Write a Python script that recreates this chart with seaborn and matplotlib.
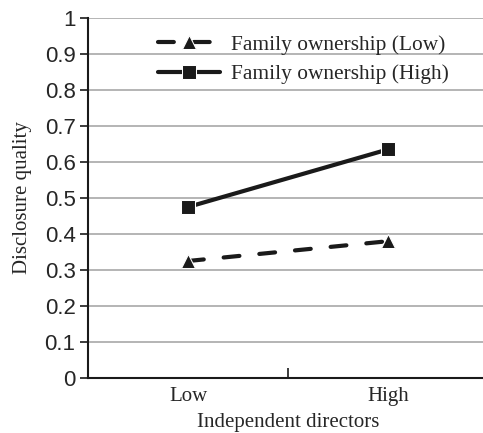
import pandas as pd
import matplotlib.pyplot as plt
import seaborn as sns

# values
directors = ['Low', 'High']
family_low = [0.325, 0.38]
family_high = [0.475, 0.635]
series_names = ['Family ownership (Low)', 'Family ownership (High)']

df = pd.DataFrame({
    'Independent directors': directors * 2,
    'Disclosure quality': family_low + family_high,
    'series': [series_names[0]] * 2 + [series_names[1]] * 2,
})

sns.set_style('white')

fig = plt.figure(figsize=(4.83, 4.33), dpi=100)
# axes runs off the right edge like in the original
ax = fig.add_axes([88 / 483, 1 - 378 / 433, 400 / 483, 360 / 433])

sns.lineplot(data=df, x='Independent directors', y='Disclosure quality',
             style='series', style_order=series_names,
             markers={series_names[0]: '^', series_names[1]: 's'},
             dashes={series_names[0]: (3.8, 4.8), series_names[1]: ''},
             color='#1a1a1a', linewidth=3, markersize=10,
             dash_capstyle='round', ax=ax)

ax.set_xlim(-0.5, 1.5)
ax.set_ylim(0, 1)
ax.set_yticks([i / 10 for i in range(11)])
ax.set_yticklabels(['0', '0.1', '0.2', '0.3', '0.4', '0.5', '0.6', '0.7', '0.8', '0.9', '1'],
                   family='Liberation Sans', fontsize=16)
ax.yaxis.grid(True, color='#a8a8a8', linewidth=1.2)
ax.set_axisbelow(True)

for side in ['top', 'right']:
    ax.spines[side].set_visible(False)
for side in ['left', 'bottom']:
    ax.spines[side].set_color('#1a1a1a')
    ax.spines[side].set_linewidth(1.5)

ax.tick_params(axis='y', which='both', left=True, length=6, width=1.2, color='#1a1a1a', pad=3)
ax.tick_params(axis='x', bottom=False, pad=3)
for lbl in ax.get_xticklabels():
    lbl.set_family('Liberation Serif')
    lbl.set_fontsize(15)
# boundary tick between the two categories
ax.set_xticks([0.5], minor=True)
ax.tick_params(axis='x', which='minor', bottom=True, direction='in', length=7, width=1.2, color='#1a1a1a')

ax.set_xlabel('Independent directors', family='Liberation Serif', fontsize=15, labelpad=5)
ax.set_ylabel('Disclosure quality', family='Liberation Serif', fontsize=15, labelpad=9)

leg = ax.legend(loc='upper left', bbox_to_anchor=(0.1275, 1.007), frameon=False,
                prop={'family': 'Liberation Serif', 'size': 15.4},
                handlelength=2.9, handletextpad=0.5, labelspacing=0.45)

fig.savefig('out.png', dpi=100)
